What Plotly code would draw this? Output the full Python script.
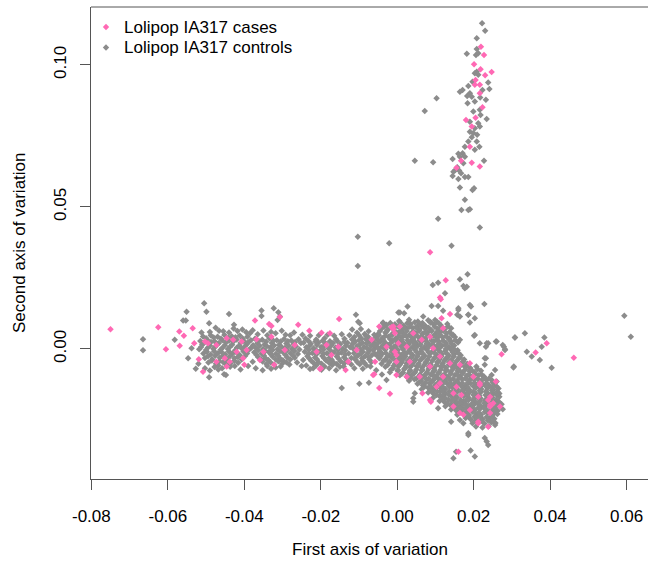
import plotly.graph_objects as go

# ---------------- data ----------------
cases_pts = [
    # vertical spike
    (0.0219,0.1064),(0.0227,0.1035),(0.0201,0.1002),(0.0218,0.0985),(0.0247,0.0975),(0.0230,0.0964),
    (0.0205,0.0947),(0.0216,0.0930),(0.0203,0.0930),(0.0216,0.0900),(0.0223,0.0851),(0.0180,0.0806),
    (0.0205,0.0814),(0.0195,0.0783),(0.0190,0.0712),(0.0167,0.0663),(0.0195,0.0656),(0.0216,0.0642),
    (0.0155,0.0638),
    # middle / right scattered
    (0.0086,0.0340),(0.0127,0.0242),(0.0112,0.0181),(0.0114,0.0175),(0.0138,0.0123),(0.0116,0.0108),
    (-0.0015,0.0076),(0.0007,0.0079),(0.0273,-0.0019),(0.0258,-0.0115),(-0.0019,-0.0158),(0.0066,-0.0156),
    (0.0088,-0.0186),(0.0212,-0.0262),(0.0238,-0.0274),(0.0160,-0.0362),(0.0391,0.0020),(0.0362,-0.0013),
    (0.0462,-0.0031),
    # left part
    (-0.0750,0.0069),(-0.0625,0.0076),(-0.0605,-0.0001),(-0.0570,0.0061),(-0.0535,0.0073),(-0.0558,0.0046),
    (-0.0569,0.0011),(-0.0531,0.0020),(-0.0519,-0.0036),(-0.0508,-0.0080),(-0.0503,0.0026),(-0.0473,0.0014),
    (-0.0446,0.0038),(-0.0429,0.0032),(-0.0407,0.0026),(-0.0420,-0.0010),(-0.0394,-0.0004),(-0.0451,-0.0033),
    (-0.0473,-0.0045),(-0.0438,-0.0045),(-0.0403,-0.0033),(-0.0446,-0.0062),(-0.0495,0.0020),
    # band
    (-0.0372,0.0100),(-0.0307,0.0112),(-0.0335,0.0088),(-0.0329,0.0081),(-0.0259,0.0085),(-0.0152,0.0105),
    (-0.0400,-0.0056),(-0.0322,-0.0056),(-0.0202,-0.0071),(-0.0047,-0.0138),(-0.0060,-0.0089),(-0.0135,-0.0074),
    (-0.0063,-0.0092),(-0.0002,-0.0092),(-0.0230,0.0064),(-0.0176,0.0055),(-0.0198,0.0057),(-0.0047,0.0079),
    (-0.0010,0.0069),(-0.0368,0.0034),(-0.0350,-0.0010),(-0.0329,0.0043),(-0.0359,-0.0039),(-0.0294,-0.0004),
    (-0.0268,0.0014),(-0.0211,-0.0010),(-0.0185,0.0014),(-0.0172,-0.0021),(-0.0154,0.0008),(-0.0128,-0.0045),
    (-0.0106,-0.0004),(-0.0067,0.0032),(-0.0058,-0.0045),(-0.0028,0.0008),(-0.0006,-0.0010),(-0.0002,-0.0045),
    (0.0003,0.0020),(-0.0200,-0.0068),
    # main blob and lower lobe
    (-0.0010,0.0079),(-0.0006,0.0055),(0.0025,0.0008),(0.0042,0.0055),(0.0064,0.0032),(0.0086,0.0043),
    (0.0094,0.0002),(0.0120,0.0073),(0.0112,-0.0027),(0.0138,-0.0050),(0.0164,-0.0056),(0.0190,-0.0050),
    (0.0086,-0.0062),(0.0059,-0.0098),(0.0025,-0.0098),(0.0120,-0.0098),(0.0103,-0.0133),(0.0086,-0.0180),
    (0.0155,-0.0133),(0.0199,-0.0098),(0.0216,-0.0121),(0.0243,-0.0168),(0.0243,-0.0203),(0.0269,-0.0203),
    (0.0168,-0.0162),(0.0190,-0.0215),(0.0147,-0.0203),(-0.0002,-0.0021),(0.0033,-0.0045),(0.0164,-0.0226),
    (0.0173,-0.0232),(0.0238,-0.0180),(0.0243,-0.0197),(0.0251,-0.0191),(0.0216,-0.0127),(0.0212,-0.0168),
    (0.0112,-0.0121),(0.0147,-0.0156),(0.0243,-0.0226),(0.0212,-0.0256),
]

controls_spike = [
    (0.0222,0.1147),(0.0230,0.1120),(0.0208,0.1094),(0.0208,0.1056),(0.0182,0.1039),(0.0206,0.1035),
    (0.0212,0.1041),(0.0208,0.0976),(0.0203,0.0971),(0.0212,0.0965),(0.0197,0.0941),(0.0238,0.0938),
    (0.0241,0.0915),(0.0223,0.0912),(0.0186,0.0926),(0.0171,0.0912),(0.0164,0.0906),(0.0190,0.0900),
    (0.0195,0.0888),(0.0183,0.0891),(0.0217,0.0885),(0.0103,0.0883),(0.0203,0.0871),(0.0184,0.0865),
    (0.0232,0.0877),(0.0216,0.0842),(0.0072,0.0838),(0.0199,0.0836),(0.0218,0.0824),(0.0234,0.0810),
    (0.0190,0.0800),(0.0212,0.0795),(0.0203,0.0777),(0.0216,0.0783),(0.0190,0.0765),(0.0199,0.0760),
    (0.0209,0.0754),(0.0195,0.0745),(0.0186,0.0730),(0.0208,0.0730),(0.0215,0.0712),(0.0177,0.0712),
    (0.0203,0.0701),(0.0171,0.0689),(0.0160,0.0687),(0.0164,0.0677),(0.0177,0.0677),(0.0145,0.0669),
    (0.0046,0.0663),(0.0094,0.0657),(0.0227,0.0663),(0.0173,0.0654),(0.0162,0.0628),(0.0147,0.0624),
    (0.0167,0.0619),(0.0145,0.0609),(0.0177,0.0605),(0.0186,0.0605),(0.0164,0.0568),(0.0197,0.0560),
    (0.0201,0.0566),(0.0177,0.0525),(0.0168,0.0489),(0.0186,0.0489),(0.0190,0.0492),(0.0107,0.0458),
    (0.0216,0.0428),(-0.0021,0.0372),(0.0142,0.0363),(-0.0103,0.0395),(-0.0103,0.0292),(0.0157,0.0640),
    (0.0152,0.0630),(0.0160,0.0598),
]

controls_scatter = [
    # left outliers
    (-0.0665,0.0034),(-0.0665,-0.0005),(-0.0551,0.0131),(-0.0505,0.0161),(-0.0499,0.0131),(-0.0440,0.0123),
    (-0.0560,0.0100),(-0.0553,0.0100),(-0.0492,0.0090),(-0.0427,0.0085),(-0.0582,0.0032),(-0.0538,0.0002),
    (-0.0547,-0.0033),(-0.0527,-0.0070),(-0.0492,-0.0100),(-0.0448,-0.0092),(-0.0503,-0.0068),(-0.0453,-0.0089),
    # band outliers
    (-0.0355,0.0135),(-0.0323,0.0143),(-0.0311,0.0129),(-0.0355,0.0116),(-0.0307,0.0114),(-0.0313,0.0102),
    (-0.0108,0.0120),(-0.0102,0.0096),(-0.0098,0.0090),(-0.0037,0.0090),(-0.0028,0.0085),(0.0003,0.0128),
    (-0.0145,-0.0138),(-0.0099,-0.0123),(-0.0074,-0.0119),(-0.0246,-0.0039),(-0.0228,-0.0071),(-0.0028,-0.0109),
    # around the main blob
    (0.0007,0.0128),(0.0018,0.0126),(0.0120,0.0134),(0.0157,0.0120),(0.0164,0.0114),(0.0186,0.0120),
    (0.0203,0.0108),(0.0190,0.0093),(0.0068,0.0114),(0.0086,0.0096),(0.0099,0.0102),(-0.0037,0.0093),
    (0.0160,0.0137),(0.0201,0.0046),(0.0216,0.0020),(0.0238,0.0020),(0.0232,0.0008),(0.0258,0.0026),
    (0.0279,0.0008),(0.0282,-0.0004),(0.0308,0.0040),(0.0232,-0.0033),(0.0229,-0.0056),(0.0304,-0.0065),
    (0.0247,-0.0092),(0.0046,-0.0156),(0.0042,-0.0174),(0.0042,-0.0186),(0.0107,-0.0209),(0.0141,-0.0256),
    (0.0164,-0.0250),(0.0173,-0.0262),(0.0186,-0.0297),(0.0256,-0.0268),(0.0229,-0.0314),(0.0234,-0.0326),
    (0.0238,-0.0338),(0.0154,-0.0362),(0.0192,-0.0358),(0.0147,-0.0385),(0.0203,-0.0379),(0.0027,0.0149),
    (0.0090,0.0151),(0.0107,0.0151),(0.0160,0.0143),(0.0193,0.0149),(0.0228,0.0158),(0.0173,0.0222),
    (0.0182,0.0219),(0.0177,0.0214),(0.0093,0.0225),(0.0107,0.0233),(0.0125,0.0196),(0.0164,0.0245),
    (0.0184,0.0263),(0.0203,0.0049),(0.0234,0.0020),(0.0260,0.0026),(0.0229,-0.0033),(0.0256,-0.0074),
    (0.0260,-0.0115),(0.0186,0.0120),(0.0190,0.0155),(0.0164,0.0032),(0.0151,-0.0004),(0.0186,-0.0303),
    # right outliers
    (0.0594,0.0117),(0.0611,0.0043),(0.0334,0.0055),(0.0308,0.0040),(0.0385,0.0040),(0.0378,0.0008),
    (0.0339,-0.0010),(0.0352,-0.0027),(0.0373,-0.0039),(0.0305,-0.0062),(0.0404,-0.0066),(0.0276,0.0014),
    (0.0282,-0.0001),(0.0273,-0.0195),(0.0276,-0.0212),
]

controls_band = [
    # cluster near -0.045
    (-0.0490,0.0060),(-0.0466,0.0064),(-0.0440,0.0058),(-0.0418,0.0063),(-0.0395,0.0059),
    (-0.0508,0.0044),(-0.0488,0.0048),(-0.0470,0.0043),(-0.0452,0.0049),(-0.0433,0.0045),(-0.0412,0.0047),(-0.0392,0.0043),
    (-0.0515,0.0028),(-0.0497,0.0032),(-0.0478,0.0027),(-0.0458,0.0031),(-0.0440,0.0029),(-0.0420,0.0033),(-0.0401,0.0028),(-0.0383,0.0031),
    (-0.0510,0.0016),(-0.0490,0.0012),(-0.0470,0.0017),(-0.0451,0.0013),(-0.0432,0.0015),(-0.0413,0.0011),(-0.0394,0.0016),(-0.0377,0.0013),
    (-0.0518,-0.0001),(-0.0500,-0.0004),(-0.0481,0.0001),(-0.0462,-0.0003),(-0.0443,0.0000),(-0.0424,-0.0005),(-0.0406,0.0001),(-0.0387,-0.0002),
    (-0.0507,-0.0016),(-0.0488,-0.0020),(-0.0469,-0.0015),(-0.0450,-0.0019),(-0.0431,-0.0017),(-0.0412,-0.0021),(-0.0393,-0.0016),
    (-0.0503,-0.0032),(-0.0484,-0.0036),(-0.0464,-0.0031),(-0.0445,-0.0035),(-0.0426,-0.0033),(-0.0407,-0.0037),
    (-0.0494,-0.0048),(-0.0474,-0.0052),(-0.0455,-0.0047),(-0.0436,-0.0051),(-0.0416,-0.0049),
    (-0.0478,-0.0064),(-0.0458,-0.0068),(-0.0437,-0.0063),
    (-0.0500,0.0038),(-0.0480,0.0040),(-0.0461,0.0036),(-0.0442,0.0039),(-0.0423,0.0041),(-0.0404,0.0037),
    (-0.0505,0.0022),(-0.0487,0.0024),(-0.0467,0.0020),(-0.0448,0.0023),(-0.0429,0.0025),(-0.0410,0.0021),(-0.0390,0.0023),
    (-0.0513,0.0007),(-0.0495,0.0005),(-0.0476,0.0008),(-0.0457,0.0004),(-0.0438,0.0007),(-0.0419,0.0005),(-0.0399,0.0008),(-0.0381,0.0005),
    (-0.0498,-0.0010),(-0.0479,-0.0008),(-0.0460,-0.0011),(-0.0440,-0.0009),(-0.0421,-0.0012),(-0.0402,-0.0009),
    (-0.0495,-0.0026),(-0.0476,-0.0024),(-0.0457,-0.0027),(-0.0437,-0.0025),(-0.0417,-0.0028),(-0.0398,-0.0025),
    (-0.0485,-0.0041),(-0.0465,-0.0043),(-0.0446,-0.0040),(-0.0426,-0.0042),
    (-0.0468,-0.0058),(-0.0447,-0.0056),
    # cluster near -0.031
    (-0.0365,0.0052),(-0.0340,0.0048),(-0.0318,0.0055),(-0.0292,0.0050),
    (-0.0372,0.0036),(-0.0353,0.0032),(-0.0334,0.0037),(-0.0315,0.0031),(-0.0296,0.0035),(-0.0277,0.0030),(-0.0258,0.0034),
    (-0.0366,0.0020),(-0.0347,0.0016),(-0.0328,0.0021),(-0.0309,0.0015),(-0.0290,0.0019),(-0.0271,0.0017),(-0.0252,0.0021),
    (-0.0370,0.0004),(-0.0351,0.0000),(-0.0332,0.0005),(-0.0313,-0.0001),(-0.0294,0.0003),(-0.0275,0.0001),(-0.0256,-0.0002),
    (-0.0374,-0.0012),(-0.0355,-0.0016),(-0.0336,-0.0011),(-0.0317,-0.0017),(-0.0298,-0.0013),(-0.0279,-0.0015),(-0.0260,-0.0018),
    (-0.0364,-0.0028),(-0.0345,-0.0032),(-0.0326,-0.0027),(-0.0307,-0.0033),(-0.0288,-0.0029),(-0.0268,-0.0031),
    (-0.0352,-0.0044),(-0.0331,-0.0048),(-0.0311,-0.0043),(-0.0290,-0.0047),
    (-0.0340,-0.0060),(-0.0318,-0.0065),
    (-0.0362,0.0028),(-0.0343,0.0025),(-0.0324,0.0029),(-0.0305,0.0026),(-0.0286,0.0027),(-0.0267,0.0024),
    (-0.0360,0.0011),(-0.0341,0.0009),(-0.0322,0.0012),(-0.0303,0.0008),(-0.0284,0.0011),(-0.0265,0.0009),
    (-0.0364,-0.0005),(-0.0345,-0.0007),(-0.0326,-0.0004),(-0.0307,-0.0008),(-0.0288,-0.0005),(-0.0269,-0.0007),
    (-0.0368,-0.0021),(-0.0349,-0.0023),(-0.0330,-0.0020),(-0.0311,-0.0024),(-0.0292,-0.0021),(-0.0273,-0.0023),
    (-0.0356,-0.0037),(-0.0337,-0.0039),(-0.0318,-0.0036),(-0.0299,-0.0040),(-0.0280,-0.0037),
    (-0.0342,-0.0053),(-0.0322,-0.0055),(-0.0301,-0.0052),
    # cluster near -0.018
    (-0.0240,0.0037),(-0.0212,0.0033),(-0.0190,0.0038),(-0.0160,0.0034),(-0.0138,0.0036),
    (-0.0245,0.0022),(-0.0226,0.0018),(-0.0206,0.0023),(-0.0187,0.0019),(-0.0168,0.0021),(-0.0149,0.0017),(-0.0130,0.0022),
    (-0.0238,0.0006),(-0.0219,0.0002),(-0.0199,0.0007),(-0.0180,0.0003),(-0.0161,0.0005),(-0.0142,0.0001),(-0.0123,0.0006),
    (-0.0242,-0.0010),(-0.0222,-0.0014),(-0.0203,-0.0009),(-0.0184,-0.0015),(-0.0165,-0.0011),(-0.0146,-0.0013),(-0.0127,-0.0016),
    (-0.0235,-0.0026),(-0.0215,-0.0030),(-0.0196,-0.0025),(-0.0177,-0.0031),(-0.0158,-0.0027),(-0.0139,-0.0029),(-0.0120,-0.0032),
    (-0.0225,-0.0042),(-0.0206,-0.0046),(-0.0186,-0.0041),(-0.0167,-0.0047),(-0.0148,-0.0043),(-0.0129,-0.0045),
    (-0.0212,-0.0058),(-0.0190,-0.0062),(-0.0170,-0.0057),(-0.0150,-0.0063),
    (-0.0232,0.0028),(-0.0214,0.0026),(-0.0195,0.0029),(-0.0176,0.0027),(-0.0157,0.0028),(-0.0138,0.0025),
    (-0.0229,0.0012),(-0.0210,0.0014),(-0.0191,0.0011),(-0.0172,0.0013),(-0.0153,0.0010),(-0.0134,0.0012),
    (-0.0231,-0.0003),(-0.0212,-0.0005),(-0.0193,-0.0002),(-0.0174,-0.0006),(-0.0155,-0.0003),(-0.0136,-0.0005),
    (-0.0232,-0.0018),(-0.0212,-0.0020),(-0.0193,-0.0017),(-0.0174,-0.0021),(-0.0155,-0.0018),(-0.0136,-0.0020),
    (-0.0230,-0.0034),(-0.0210,-0.0036),(-0.0191,-0.0033),(-0.0172,-0.0037),(-0.0153,-0.0035),(-0.0134,-0.0037),
    (-0.0218,-0.0050),(-0.0198,-0.0052),(-0.0178,-0.0049),(-0.0158,-0.0053),(-0.0139,-0.0051),
    # cluster near -0.009
    (-0.0105,0.0057),(-0.0085,0.0053),
    (-0.0112,0.0042),(-0.0094,0.0038),(-0.0076,0.0043),
    (-0.0110,0.0026),(-0.0091,0.0022),(-0.0073,0.0027),
    (-0.0105,0.0010),(-0.0087,0.0006),(-0.0069,0.0011),
    (-0.0108,-0.0006),(-0.0090,-0.0010),(-0.0072,-0.0005),
    (-0.0102,-0.0022),(-0.0084,-0.0026),(-0.0066,-0.0021),
    (-0.0109,-0.0038),(-0.0091,-0.0042),(-0.0073,-0.0037),
    (-0.0098,-0.0054),(-0.0080,-0.0058),
    (-0.0100,0.0048),(-0.0082,0.0046),(-0.0118,0.0033),(-0.0100,0.0031),(-0.0082,0.0034),(-0.0064,0.0030),
    (-0.0117,0.0017),(-0.0098,0.0015),(-0.0080,0.0018),(-0.0062,0.0016),(-0.0115,0.0001),(-0.0097,-0.0002),
    (-0.0079,0.0002),(-0.0061,-0.0001),(-0.0113,-0.0015),(-0.0095,-0.0017),(-0.0077,-0.0014),(-0.0059,-0.0016),
    (-0.0110,-0.0031),(-0.0092,-0.0033),(-0.0074,-0.0030),(-0.0104,-0.0047),(-0.0086,-0.0049),(-0.0068,-0.0046),
    # upper and lower edges of the band
    (-0.0512,0.0058),(-0.0475,0.0075),(-0.0455,0.0062),(-0.0428,0.0072),(-0.0405,0.0068),(-0.0385,0.0055),
    (-0.0378,0.0066),(-0.0350,0.0065),(-0.0330,0.0060),(-0.0302,0.0064),(-0.0280,0.0048),(-0.0270,0.0058),
    (-0.0248,0.0050),(-0.0228,0.0046),(-0.0205,0.0048),(-0.0182,0.0050),(-0.0165,0.0046),(-0.0145,0.0052),
    (-0.0125,0.0048),(-0.0118,0.0068),(-0.0095,0.0070),(-0.0075,0.0062),(-0.0060,0.0050),
    (-0.0520,-0.0052),(-0.0490,-0.0076),(-0.0468,-0.0072),(-0.0425,-0.0060),(-0.0410,-0.0072),(-0.0390,-0.0060),
    (-0.0378,-0.0045),(-0.0370,-0.0068),(-0.0352,-0.0075),(-0.0330,-0.0070),(-0.0305,-0.0062),(-0.0282,-0.0055),
    (-0.0262,-0.0048),(-0.0250,-0.0060),(-0.0238,-0.0058),(-0.0220,-0.0068),(-0.0198,-0.0073),(-0.0178,-0.0068),
    (-0.0160,-0.0075),(-0.0140,-0.0062),(-0.0120,-0.0055),(-0.0112,-0.0068),(-0.0090,-0.0070),(-0.0070,-0.0062),
    (-0.0055,-0.0075),(-0.0040,-0.0090),
]

controls_blob = [
    (0.0005,0.0098),(0.0031,0.0103),(0.0054,0.0097),(0.0081,0.0101),(0.0104,0.0096),
    (-0.0030,0.0083),(-0.0006,0.0087),(0.0016,0.0082),(0.0035,0.0088),(0.0056,0.0084),(0.0074,0.0081),(0.0096,0.0086),(0.0114,0.0083),(0.0131,0.0088),
    (-0.0041,0.0072),(-0.0024,0.0068),(-0.0009,0.0073),(0.0011,0.0067),(0.0024,0.0071),(0.0041,0.0074),(0.0057,0.0068),(0.0073,0.0072),(0.0089,0.0066),(0.0106,0.0071),(0.0124,0.0069),(0.0141,0.0073),
    (-0.0050,0.0053),(-0.0031,0.0057),(-0.0014,0.0052),(0.0003,0.0058),(0.0017,0.0054),(0.0033,0.0051),(0.0049,0.0056),(0.0066,0.0053),(0.0079,0.0058),(0.0099,0.0052),(0.0111,0.0057),(0.0129,0.0054),(0.0146,0.0050),
    (-0.0056,0.0042),(-0.0039,0.0038),(-0.0023,0.0043),(-0.0004,0.0037),(0.0011,0.0041),(0.0025,0.0044),(0.0041,0.0038),(0.0055,0.0042),(0.0073,0.0036),(0.0087,0.0043),(0.0105,0.0039),(0.0119,0.0041),(0.0136,0.0037),(0.0151,0.0042),
    (-0.0061,0.0023),(-0.0044,0.0027),(-0.0031,0.0022),(-0.0011,0.0028),(0.0004,0.0024),(0.0017,0.0021),(0.0035,0.0026),(0.0047,0.0023),(0.0065,0.0028),(0.0079,0.0022),(0.0096,0.0027),(0.0109,0.0024),(0.0128,0.0021),(0.0141,0.0026),(0.0159,0.0023),
    (-0.0057,0.0012),(-0.0041,0.0008),(-0.0024,0.0013),(-0.0009,0.0007),(0.0009,0.0011),(0.0023,0.0014),(0.0041,0.0008),(0.0054,0.0012),(0.0071,0.0006),(0.0085,0.0013),(0.0103,0.0009),(0.0117,0.0011),(0.0135,0.0007),(0.0149,0.0012),
    (-0.0063,-0.0003),(-0.0046,-0.0007),(-0.0031,-0.0002),(-0.0014,-0.0008),(0.0001,-0.0004),(0.0015,-0.0001),(0.0032,-0.0006),(0.0046,-0.0003),(0.0063,-0.0008),(0.0077,-0.0002),(0.0094,-0.0006),(0.0108,-0.0004),(0.0126,-0.0007),(0.0140,-0.0002),(0.0158,-0.0005),
    (-0.0054,-0.0022),(-0.0039,-0.0017),(-0.0021,-0.0023),(-0.0007,-0.0018),(0.0011,-0.0021),(0.0024,-0.0016),(0.0041,-0.0022),(0.0055,-0.0019),(0.0072,-0.0024),(0.0086,-0.0017),(0.0104,-0.0021),(0.0117,-0.0018),(0.0135,-0.0023),(0.0149,-0.0019),(0.0166,-0.0022),
    (-0.0047,-0.0033),(-0.0031,-0.0038),(-0.0013,-0.0032),(0.0003,-0.0037),(0.0017,-0.0034),(0.0035,-0.0031),(0.0048,-0.0036),(0.0065,-0.0033),(0.0079,-0.0038),(0.0097,-0.0032),(0.0111,-0.0036),(0.0128,-0.0034),(0.0142,-0.0039),(0.0161,-0.0033),(0.0175,-0.0037),
    (-0.0041,-0.0052),(-0.0021,-0.0047),(-0.0006,-0.0053),(0.0011,-0.0048),(0.0025,-0.0051),(0.0043,-0.0046),(0.0056,-0.0052),(0.0074,-0.0049),(0.0087,-0.0054),(0.0105,-0.0047),(0.0119,-0.0051),(0.0136,-0.0048),(0.0150,-0.0053),(0.0169,-0.0049),(0.0183,-0.0052),
    (-0.0031,-0.0063),(-0.0011,-0.0068),(0.0003,-0.0062),(0.0021,-0.0067),(0.0034,-0.0064),(0.0051,-0.0061),(0.0065,-0.0066),(0.0083,-0.0063),(0.0096,-0.0068),(0.0114,-0.0062),(0.0127,-0.0066),(0.0145,-0.0064),(0.0159,-0.0069),(0.0177,-0.0063),(0.0191,-0.0067),(0.0207,-0.0062),
    (-0.0019,-0.0082),(0.0001,-0.0077),(0.0015,-0.0083),(0.0033,-0.0078),(0.0047,-0.0081),(0.0064,-0.0076),(0.0078,-0.0082),(0.0095,-0.0079),(0.0109,-0.0084),(0.0127,-0.0077),(0.0140,-0.0081),(0.0158,-0.0078),(0.0171,-0.0083),(0.0189,-0.0079),(0.0202,-0.0082),(0.0219,-0.0077),
    (0.0007,-0.0093),(0.0025,-0.0098),(0.0039,-0.0092),(0.0057,-0.0097),(0.0071,-0.0094),(0.0088,-0.0091),(0.0102,-0.0096),(0.0120,-0.0093),(0.0133,-0.0098),(0.0151,-0.0092),(0.0164,-0.0096),(0.0182,-0.0094),(0.0195,-0.0099),(0.0213,-0.0093),(0.0227,-0.0097),
    (0.0031,-0.0112),(0.0045,-0.0107),(0.0063,-0.0113),(0.0077,-0.0108),(0.0094,-0.0111),(0.0108,-0.0106),(0.0125,-0.0112),(0.0139,-0.0109),(0.0156,-0.0114),(0.0170,-0.0107),(0.0188,-0.0111),(0.0201,-0.0108),(0.0219,-0.0113),(0.0233,-0.0109),(0.0249,-0.0112),
    (0.0053,-0.0123),(0.0067,-0.0128),(0.0085,-0.0122),(0.0099,-0.0127),(0.0116,-0.0124),(0.0130,-0.0121),(0.0147,-0.0126),(0.0161,-0.0123),(0.0179,-0.0128),(0.0192,-0.0122),(0.0210,-0.0126),(0.0223,-0.0124),(0.0241,-0.0129),(0.0254,-0.0123),
    (0.0064,-0.0142),(0.0081,-0.0137),(0.0095,-0.0143),(0.0113,-0.0138),(0.0126,-0.0141),(0.0144,-0.0136),(0.0157,-0.0142),(0.0175,-0.0139),(0.0189,-0.0144),(0.0206,-0.0137),(0.0220,-0.0141),(0.0237,-0.0138),(0.0251,-0.0143),(0.0265,-0.0139),
    (0.0081,-0.0153),(0.0095,-0.0158),(0.0112,-0.0152),(0.0126,-0.0157),(0.0143,-0.0154),(0.0157,-0.0151),(0.0175,-0.0156),(0.0188,-0.0153),(0.0206,-0.0158),(0.0219,-0.0152),(0.0237,-0.0156),(0.0250,-0.0154),(0.0267,-0.0157),
    (0.0094,-0.0172),(0.0111,-0.0167),(0.0125,-0.0173),(0.0143,-0.0168),(0.0156,-0.0171),(0.0174,-0.0166),(0.0187,-0.0172),(0.0205,-0.0169),(0.0218,-0.0174),(0.0236,-0.0167),(0.0249,-0.0171),(0.0267,-0.0168),
    (0.0111,-0.0183),(0.0124,-0.0188),(0.0142,-0.0182),(0.0155,-0.0187),(0.0173,-0.0184),(0.0186,-0.0181),(0.0204,-0.0186),(0.0217,-0.0183),(0.0235,-0.0188),(0.0249,-0.0182),(0.0266,-0.0186),
    (0.0126,-0.0202),(0.0139,-0.0197),(0.0157,-0.0203),(0.0170,-0.0198),(0.0188,-0.0201),(0.0201,-0.0196),(0.0219,-0.0202),(0.0232,-0.0199),(0.0250,-0.0204),(0.0263,-0.0198),
    (0.0141,-0.0213),(0.0155,-0.0218),(0.0172,-0.0212),(0.0186,-0.0217),(0.0203,-0.0214),(0.0217,-0.0211),(0.0234,-0.0216),(0.0248,-0.0213),(0.0263,-0.0218),
    (0.0157,-0.0232),(0.0175,-0.0227),(0.0188,-0.0233),(0.0206,-0.0228),(0.0219,-0.0231),(0.0237,-0.0226),(0.0250,-0.0232),(0.0262,-0.0229),
    (0.0179,-0.0243),(0.0192,-0.0248),(0.0210,-0.0242),(0.0223,-0.0247),(0.0241,-0.0244),(0.0254,-0.0246),
    (0.0197,-0.0262),(0.0215,-0.0257),(0.0228,-0.0263),(0.0246,-0.0258),(0.0257,-0.0261),
    (0.0206,-0.0273),(0.0223,-0.0277),(0.0239,-0.0272),
]

controls_blob_fill = [
    (-0.0018,0.0091),(0.0008,0.0093),(0.0026,0.0090),(0.0046,0.0094),(0.0066,0.0091),(0.0088,0.0092),(0.0109,0.0090),
    (-0.0034,0.0078),(-0.0016,0.0076),(0.0002,0.0079),(0.0018,0.0075),(0.0033,0.0078),(0.0049,0.0076),(0.0065,0.0079),(0.0082,0.0075),(0.0098,0.0078),(0.0115,0.0076),(0.0133,0.0079),
    (-0.0045,0.0063),(-0.0028,0.0061),(-0.0007,0.0064),(0.0009,0.0060),(0.0025,0.0063),(0.0041,0.0061),(0.0058,0.0064),(0.0073,0.0060),(0.0090,0.0063),(0.0105,0.0061),(0.0120,0.0064),(0.0137,0.0060),
    (-0.0048,0.0048),(-0.0031,0.0046),(-0.0013,0.0049),(0.0004,0.0045),(0.0019,0.0048),(0.0034,0.0046),(0.0048,0.0049),(0.0064,0.0045),(0.0080,0.0048),(0.0096,0.0046),(0.0112,0.0049),(0.0128,0.0045),(0.0144,0.0048),
    (-0.0052,0.0033),(-0.0036,0.0031),(-0.0018,0.0034),(-0.0003,0.0030),(0.0012,0.0033),(0.0027,0.0031),(0.0042,0.0034),(0.0058,0.0030),(0.0073,0.0033),(0.0089,0.0031),(0.0104,0.0034),(0.0120,0.0030),(0.0136,0.0033),(0.0152,0.0031),
    (-0.0052,0.0018),(-0.0036,0.0016),(-0.0018,0.0019),(-0.0002,0.0015),(0.0014,0.0018),(0.0030,0.0016),(0.0045,0.0019),(0.0061,0.0015),(0.0077,0.0018),(0.0093,0.0016),(0.0110,0.0019),(0.0126,0.0015),(0.0142,0.0018),
    (-0.0050,0.0003),(-0.0033,0.0001),(-0.0016,0.0004),(-0.0001,0.0000),(0.0016,0.0003),(0.0032,0.0001),(0.0048,0.0004),(0.0063,0.0000),(0.0079,0.0003),(0.0095,0.0001),(0.0111,0.0004),(0.0127,0.0000),(0.0143,0.0003),
    (-0.0047,-0.0012),(-0.0030,-0.0014),(-0.0014,-0.0011),(0.0003,-0.0015),(0.0019,-0.0012),(0.0035,-0.0014),(0.0051,-0.0011),(0.0066,-0.0015),(0.0082,-0.0012),(0.0098,-0.0014),(0.0113,-0.0011),(0.0129,-0.0015),(0.0145,-0.0012),(0.0160,-0.0014),
    (-0.0044,-0.0027),(-0.0027,-0.0029),(-0.0011,-0.0026),(0.0006,-0.0030),(0.0021,-0.0027),(0.0037,-0.0029),(0.0053,-0.0026),(0.0068,-0.0030),(0.0084,-0.0027),(0.0100,-0.0029),(0.0116,-0.0026),(0.0132,-0.0030),(0.0148,-0.0027),(0.0164,-0.0029),
    (-0.0036,-0.0042),(-0.0020,-0.0044),(-0.0004,-0.0041),(0.0012,-0.0045),(0.0028,-0.0042),(0.0044,-0.0044),(0.0060,-0.0041),(0.0076,-0.0045),(0.0092,-0.0042),(0.0108,-0.0044),(0.0124,-0.0041),(0.0140,-0.0045),(0.0156,-0.0042),(0.0172,-0.0044),
    (-0.0025,-0.0057),(-0.0009,-0.0059),(0.0007,-0.0056),(0.0023,-0.0060),(0.0039,-0.0057),(0.0055,-0.0059),(0.0071,-0.0056),(0.0087,-0.0060),(0.0103,-0.0057),(0.0119,-0.0059),(0.0135,-0.0056),(0.0151,-0.0060),(0.0167,-0.0057),(0.0183,-0.0059),
    (-0.0016,-0.0072),(0.0002,-0.0074),(0.0018,-0.0071),(0.0034,-0.0075),(0.0050,-0.0072),(0.0066,-0.0074),(0.0082,-0.0071),(0.0098,-0.0075),(0.0114,-0.0072),(0.0130,-0.0074),(0.0146,-0.0071),(0.0162,-0.0075),(0.0178,-0.0072),(0.0194,-0.0074),(0.0210,-0.0071),
    (0.0012,-0.0087),(0.0028,-0.0089),(0.0044,-0.0086),(0.0060,-0.0090),(0.0076,-0.0087),(0.0092,-0.0089),(0.0108,-0.0086),(0.0124,-0.0090),(0.0140,-0.0087),(0.0156,-0.0089),(0.0172,-0.0086),(0.0188,-0.0090),(0.0204,-0.0087),(0.0220,-0.0089),
    (0.0034,-0.0102),(0.0050,-0.0104),(0.0066,-0.0101),(0.0082,-0.0105),(0.0098,-0.0102),(0.0114,-0.0104),(0.0130,-0.0101),(0.0146,-0.0105),(0.0162,-0.0102),(0.0178,-0.0104),(0.0194,-0.0101),(0.0210,-0.0105),(0.0226,-0.0102),(0.0240,-0.0104),
    (0.0058,-0.0117),(0.0074,-0.0119),(0.0090,-0.0116),(0.0106,-0.0120),(0.0122,-0.0117),(0.0138,-0.0119),(0.0154,-0.0116),(0.0170,-0.0120),(0.0186,-0.0117),(0.0202,-0.0119),(0.0218,-0.0116),(0.0234,-0.0120),(0.0250,-0.0117),
    (0.0072,-0.0132),(0.0088,-0.0134),(0.0104,-0.0131),(0.0120,-0.0135),(0.0136,-0.0132),(0.0152,-0.0134),(0.0168,-0.0131),(0.0184,-0.0135),(0.0200,-0.0132),(0.0216,-0.0134),(0.0232,-0.0131),(0.0248,-0.0135),(0.0260,-0.0132),
    (0.0088,-0.0147),(0.0104,-0.0149),(0.0120,-0.0146),(0.0136,-0.0150),(0.0152,-0.0147),(0.0168,-0.0149),(0.0184,-0.0146),(0.0200,-0.0150),(0.0216,-0.0147),(0.0232,-0.0149),(0.0248,-0.0146),(0.0262,-0.0150),
    (0.0103,-0.0162),(0.0119,-0.0164),(0.0135,-0.0161),(0.0151,-0.0165),(0.0167,-0.0162),(0.0183,-0.0164),(0.0199,-0.0161),(0.0215,-0.0165),(0.0231,-0.0162),(0.0247,-0.0164),(0.0260,-0.0161),
    (0.0118,-0.0177),(0.0134,-0.0179),(0.0150,-0.0176),(0.0166,-0.0180),(0.0182,-0.0177),(0.0198,-0.0179),(0.0214,-0.0176),(0.0230,-0.0180),(0.0246,-0.0177),(0.0259,-0.0179),
    (0.0132,-0.0192),(0.0148,-0.0194),(0.0164,-0.0191),(0.0180,-0.0195),(0.0196,-0.0192),(0.0212,-0.0194),(0.0228,-0.0191),(0.0244,-0.0195),(0.0258,-0.0192),
    (0.0148,-0.0207),(0.0164,-0.0209),(0.0180,-0.0206),(0.0196,-0.0210),(0.0212,-0.0207),(0.0228,-0.0209),(0.0244,-0.0206),(0.0256,-0.0210),
    (0.0165,-0.0222),(0.0181,-0.0224),(0.0197,-0.0221),(0.0213,-0.0225),(0.0229,-0.0222),(0.0245,-0.0224),(0.0256,-0.0221),
    (0.0186,-0.0237),(0.0202,-0.0239),(0.0218,-0.0236),(0.0234,-0.0240),(0.0248,-0.0237),
    (0.0205,-0.0252),(0.0221,-0.0254),(0.0237,-0.0251),(0.0250,-0.0254),
]

legend_labels = ["Lolipop IA317 cases", "Lolipop IA317 controls"]
x_ticks = [-0.08, -0.06, -0.04, -0.02, 0.00, 0.02, 0.04, 0.06]
x_tick_labels = ["-0.08", "-0.06", "-0.04", "-0.02", "0.00", "0.02", "0.04", "0.06"]
y_ticks = [0.00, 0.05, 0.10]
y_tick_labels = ["0.00", "0.05", "0.10"]

# ---------------- figure ----------------
controls_all = controls_band + controls_blob + controls_blob_fill + controls_scatter + controls_spike
ctrl_x = [p[0] for p in controls_all]
ctrl_y = [p[1] for p in controls_all]
case_x = [p[0] for p in cases_pts]
case_y = [p[1] for p in cases_pts]

FONT = "Liberation Sans, Arial, sans-serif"
GRAY = "#8c8c8c"
PINK = "#ff69b4"
AXIS = "#555"

fig = go.Figure()
fig.add_trace(go.Scatter(x=ctrl_x, y=ctrl_y, mode="markers", name=legend_labels[1],
                         marker=dict(symbol="diamond", size=5, color=GRAY, line=dict(width=0)),
                         showlegend=False))
fig.add_trace(go.Scatter(x=case_x, y=case_y, mode="markers", name=legend_labels[0],
                         marker=dict(symbol="diamond", size=5, color=PINK, line=dict(width=0)),
                         showlegend=False))

# manual legend (R style, no frame)
PLOT_W = 648 - 91
PLOT_H = 563 - 7 - 84
legend_rows = [(legend_labels[0], PINK, 27.0), (legend_labels[1], GRAY, 47.5)]
shapes = [dict(type="line", xref="paper", yref="paper", x0=0, x1=1, y0=1, y1=1,
               line=dict(color=AXIS, width=1))]
annotations = []
for label, col, py in legend_rows:
    yp = (563 - 84 - py) / PLOT_H
    shapes.append(dict(type="path", xref="paper", yref="paper",
                       xsizemode="pixel", ysizemode="pixel",
                       xanchor=(106 - 91) / PLOT_W, yanchor=yp,
                       path="M 0 3.2 L 3.2 0 L 0 -3.2 L -3.2 0 Z",
                       fillcolor=col, line=dict(width=0)))
    annotations.append(dict(text=label, xref="paper", yref="paper", x=(122 - 91) / PLOT_W, y=yp,
                            xanchor="left", yanchor="middle", showarrow=False,
                            font=dict(size=17, color="#000")))

annotations += [
    dict(text="First axis of variation", xref="paper", yref="paper", x=0.5, y=0,
         xanchor="center", yanchor="middle", yshift=-70, showarrow=False, font=dict(size=17)),
    dict(text="Second axis of variation", xref="paper", yref="paper", x=0, y=0.5,
         xanchor="center", yanchor="middle", xshift=-72, textangle=-90, showarrow=False,
         font=dict(size=17)),
]

fig.update_layout(
    width=648, height=563,
    margin=dict(l=91, r=0, t=7, b=84),
    paper_bgcolor="white", plot_bgcolor="white",
    font=dict(family=FONT, size=17, color="#000"),
    showlegend=False,
    xaxis=dict(range=[-0.0801, 0.0656], tickvals=x_ticks, ticktext=x_tick_labels,
               showgrid=False, zeroline=False, showline=True, linecolor=AXIS, linewidth=1,
               ticks="outside", ticklen=10, tickcolor=AXIS, tickfont=dict(size=17),
               ticklabelstandoff=12),
    yaxis=dict(range=[-0.0458, 0.1204], tickvals=y_ticks, ticktext=y_tick_labels,
               showgrid=False, zeroline=False, showline=True, linecolor=AXIS, linewidth=1,
               ticks="outside", ticklen=10, tickcolor=AXIS, tickangle=-90, tickfont=dict(size=17),
               ticklabelstandoff=7),
    shapes=shapes,
    annotations=annotations,
)

fig.write_html("out.html")
